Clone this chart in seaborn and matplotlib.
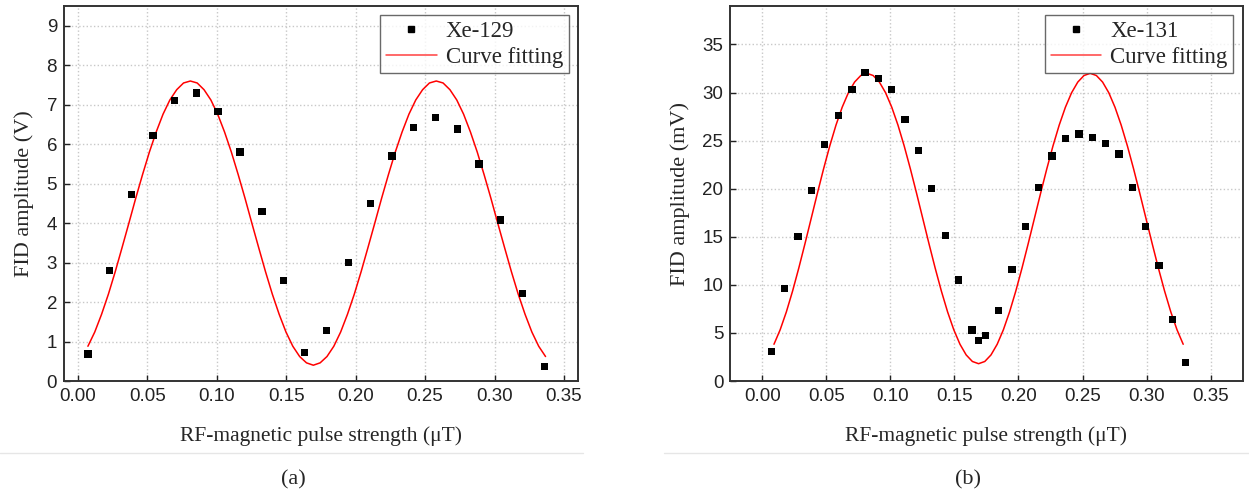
import numpy as np
import pandas as pd
import seaborn as sns
import matplotlib.pyplot as plt
from matplotlib.lines import Line2D

# measured points, panel (a) Xe-129
xe129_x = [0.0072, 0.0228, 0.0384, 0.0540, 0.0697, 0.0855, 0.1010, 0.1167, 0.1326, 0.1480, 0.1634,
           0.1790, 0.1950, 0.2106, 0.2262, 0.2418, 0.2577, 0.2733, 0.2889, 0.3045, 0.3201, 0.3360]
xe129_y = [0.68, 2.80, 4.72, 6.22, 7.10, 7.30, 6.82, 5.80, 4.30, 2.55, 0.73,
           1.28, 3.00, 4.50, 5.70, 6.42, 6.67, 6.38, 5.50, 4.08, 2.22, 0.37]

# fitted curve, panel (a)
fit129_start, fit129_end = 0.00725, 0.3367
fit129_y = [0.88, 1.24, 1.69, 2.20, 2.77, 3.38, 4.00,
            4.63, 5.23, 5.80, 6.31, 6.76, 7.12, 7.38, 7.55, 7.60,
            7.55, 7.38, 7.12, 6.76, 6.31, 5.80, 5.23, 4.63, 4.00,
            3.38, 2.77, 2.20, 1.69, 1.24, 0.88, 0.62, 0.46, 0.40,
            0.46, 0.62, 0.88, 1.24, 1.69, 2.20, 2.77, 3.38, 4.00,
            4.63, 5.23, 5.80, 6.31, 6.76, 7.12, 7.38, 7.55, 7.60,
            7.55, 7.38, 7.12, 6.76, 6.31, 5.80, 5.23, 4.63, 4.00,
            3.38, 2.77, 2.20, 1.69, 1.24, 0.88, 0.62]

# measured points, panel (b) Xe-131
xe131_x = [0.0073, 0.0175, 0.0279, 0.0386, 0.0488, 0.0595, 0.0699, 0.0803, 0.0907, 0.1011, 0.1115,
           0.1219, 0.1323, 0.1430, 0.1534, 0.1638, 0.1690, 0.1742, 0.1846, 0.1950, 0.2054, 0.2158,
           0.2262, 0.2366, 0.2473, 0.2577, 0.2681, 0.2785, 0.2889, 0.2993, 0.3097, 0.3201, 0.3305]
xe131_y = [3.1, 9.6, 15.0, 19.8, 24.6, 27.6, 30.3, 32.1, 31.45, 30.3, 27.2,
           24.0, 20.0, 15.1, 10.5, 5.3, 4.2, 4.7, 7.3, 11.6, 16.1, 20.1,
           23.4, 25.2, 25.7, 25.35, 24.7, 23.6, 20.1, 16.1, 12.0, 6.4, 1.9]

fit131_start, fit131_end = 0.0091, 0.3286
fit131_y = [3.82, 5.33, 7.19, 9.35, 11.74, 14.28, 16.90,
            19.52, 22.06, 24.45, 26.61, 28.47, 29.98, 31.09, 31.77, 32.00,
            31.77, 31.09, 29.98, 28.47, 26.61, 24.45, 22.06, 19.52, 16.90,
            14.28, 11.74, 9.35, 7.19, 5.33, 3.82, 2.71, 2.03, 1.80,
            2.03, 2.71, 3.82, 5.33, 7.19, 9.35, 11.74, 14.28, 16.90,
            19.52, 22.06, 24.45, 26.61, 28.47, 29.98, 31.09, 31.77, 32.00,
            31.77, 31.09, 29.98, 28.47, 26.61, 24.45, 22.06, 19.52, 16.90,
            14.28, 11.74, 9.35, 7.19, 5.33, 3.82]

x_ticks = [0.00, 0.05, 0.10, 0.15, 0.20, 0.25, 0.30, 0.35]
x_label = "RF-magnetic pulse strength (\u03bcT)"

sns.set_style("ticks")
plt.rcParams['font.family'] = ['Liberation Sans', 'DejaVu Sans']

serif = ['Liberation Serif', 'DejaVu Serif']

fig = plt.figure(figsize=(12.49, 4.97), dpi=100)
ax1 = fig.add_axes([0.0512, 0.2334, 0.4115, 0.7545])
ax2 = fig.add_axes([0.5847, 0.2334, 0.4102, 0.7545])


def draw_panel(ax, px, py, fstart, fend, fy, name, ylabel, xlim, ylim, yticks):
    pts = pd.DataFrame({'x': px, 'y': py})
    fit = pd.DataFrame({'x': np.linspace(fstart, fend, len(fy)), 'y': fy})
    ax.grid(True, color='#c8c8c8', linestyle=':', linewidth=1.0)
    ax.set_axisbelow(True)
    sns.lineplot(data=fit, x='x', y='y', ax=ax, color='red', linewidth=1.1,
                 label='Curve fitting', legend=False, zorder=2)
    sns.scatterplot(data=pts, x='x', y='y', ax=ax, marker='s', s=28, color='black',
                    edgecolor='none', label=name, legend=False, zorder=3)
    ax.set_xlim(*xlim)
    ax.set_ylim(*ylim)
    ax.set_xticks(x_ticks)
    ax.set_xticklabels([f"{t:.2f}" for t in x_ticks])
    ax.set_yticks(yticks)
    ax.tick_params(direction='in', length=4, width=1, labelsize=13.5, colors='#222222',
                   pad=5)
    for s in ax.spines.values():
        s.set_linewidth(1.4)
        s.set_color('#333333')
    ax.set_xlabel(x_label, family=serif, fontsize=15.5, labelpad=15)
    ax.set_ylabel(ylabel, family=serif, fontsize=16, labelpad=9)
    handles = [Line2D([], [], marker='s', linestyle='none', color='black', markersize=4),
               Line2D([], [], color='#ff4040', linewidth=1.1)]
    leg = ax.legend(handles, [name, 'Curve fitting'], loc='upper right',
                    prop={'family': serif, 'size': 16.5}, frameon=True, fancybox=False,
                    edgecolor='#444444', handlelength=2.2, borderpad=0.25,
                    labelspacing=0.2, handletextpad=0.4, borderaxespad=0.4)
    leg.get_frame().set_linewidth(1.0)


draw_panel(ax1, xe129_x, xe129_y, fit129_start, fit129_end, fit129_y, 'Xe-129',
           'FID amplitude (V)', (-0.01, 0.36), (0, 9.5), list(range(10)))
draw_panel(ax2, xe131_x, xe131_y, fit131_start, fit131_end, fit131_y, 'Xe-131',
           'FID amplitude (mV)', (-0.025, 0.375), (0, 39), list(range(0, 40, 5)))

# separators and panel tags
fig.add_artist(Line2D([0.0, 0.467], [0.089, 0.089], transform=fig.transFigure,
                      color='#e6e6e6', linewidth=1))
fig.add_artist(Line2D([0.532, 1.0], [0.089, 0.089], transform=fig.transFigure,
                      color='#e6e6e6', linewidth=1))
fig.text(0.2346, 0.034, '(a)', family=serif, fontsize=16, ha='center', va='center')
fig.text(0.775, 0.034, '(b)', family=serif, fontsize=16, ha='center', va='center')

fig.savefig('out.png', dpi=100)
